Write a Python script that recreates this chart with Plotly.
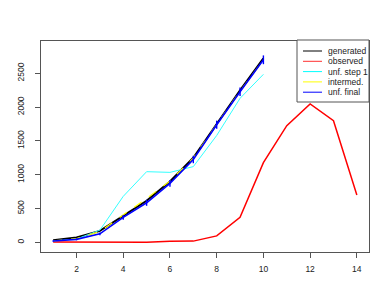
import plotly.graph_objects as go

x_gen = [1, 2, 3, 4, 5, 6, 7, 8, 9, 10]
generated = [30, 72, 170, 390, 615, 900, 1250, 1750, 2250, 2720]
unf_step1 = [20, 50, 180, 680, 1045, 1035, 1120, 1580, 2130, 2485]
intermed = [22, 55, 160, 400, 650, 905, 1245, 1745, 2235, 2700]
unf_final = [19, 44, 125, 370, 585, 872, 1225, 1740, 2228, 2700]
unf_final_err = [10, 14, 20, 35, 45, 50, 55, 60, 62, 65]

x_obs = [1, 2, 3, 4, 5, 6, 7, 8, 9, 10, 11, 12, 13, 14]
observed = [5, 3, 2, 5, 3, 15, 18, 95, 370, 1178, 1725, 2046, 1799, 700]

x_ticks = [2, 4, 6, 8, 10, 12, 14]
y_ticks = [0, 500, 1000, 1500, 2000, 2500]

legend_labels = ["generated", "observed", "unf. step 1", "intermed.", "unf. final"]
legend_colors = ["#000000", "#ff3030", "#00ffff", "#ffff00", "#0000ff"]

fig = go.Figure()
fig.add_trace(go.Scatter(x=x_gen, y=generated, mode="lines",
                         line=dict(color="black", width=2)))
fig.add_trace(go.Scatter(x=x_obs, y=observed, mode="lines",
                         line=dict(color="#ff0000", width=1.5)))
fig.add_trace(go.Scatter(x=x_gen, y=unf_step1, mode="lines",
                         line=dict(color="#33ffff", width=1)))
fig.add_trace(go.Scatter(x=x_gen, y=intermed, mode="lines",
                         line=dict(color="#ffff00", width=1.2, dash="dash")))
fig.add_trace(go.Scatter(x=x_gen, y=unf_final, mode="lines",
                         line=dict(color="#0000ff", width=1.6),
                         error_y=dict(type="data", array=unf_final_err,
                                      color="#0000ff", thickness=1.4, width=0)))

# plot area in page pixels (page has an 8px body margin)
PL, PR, PT, PB = 41, 369, 41, 252
PW, PH = PR - PL, PB - PT

def px(xp):
    return (xp - PL) / PW

def py(yp):
    return (PB - yp) / PH

# manual R-style legend
lx0, ly0 = 297, 40
lw, lh = 72, 62
fig.add_shape(type="rect", xref="paper", yref="paper",
              x0=px(lx0), x1=px(lx0 + lw), y0=py(ly0 + lh), y1=py(ly0),
              line=dict(color="#555555", width=1), fillcolor="white", layer="above")
for i, (lab, col) in enumerate(zip(legend_labels, legend_colors)):
    yy = ly0 + 11 + i * 10.3
    fig.add_shape(type="line", xref="paper", yref="paper",
                  x0=px(303), x1=px(322), y0=py(yy), y1=py(yy),
                  line=dict(color=col, width=1), layer="above")
    fig.add_annotation(xref="paper", yref="paper", x=px(326), y=py(yy),
                       text=lab, showarrow=False, xanchor="left", yanchor="middle",
                       font=dict(family="Liberation Sans, Arial", size=8.5, color="#222"))

axis_common = dict(showgrid=False, zeroline=False, showline=True, mirror=True,
                   linecolor="#555555", linewidth=1, ticks="outside", ticklen=5,
                   tickcolor="#555555", automargin=False,
                   tickfont=dict(family="Liberation Sans, Arial", size=8.5, color="#222"))

fig.update_layout(
    width=382, height=294,
    margin=dict(l=PL - 8, r=390 - PR, t=PT - 8, b=302 - PB),
    paper_bgcolor="white", plot_bgcolor="white",
    showlegend=False,
    xaxis=dict(range=[0.48, 14.52], tickvals=x_ticks, ticklabelstandoff=4, **axis_common),
    yaxis=dict(range=[-143, 2978], tickvals=y_ticks, tickangle=-90,
               ticklabelstandoff=8, **axis_common),
)

fig.write_html("out.html")
